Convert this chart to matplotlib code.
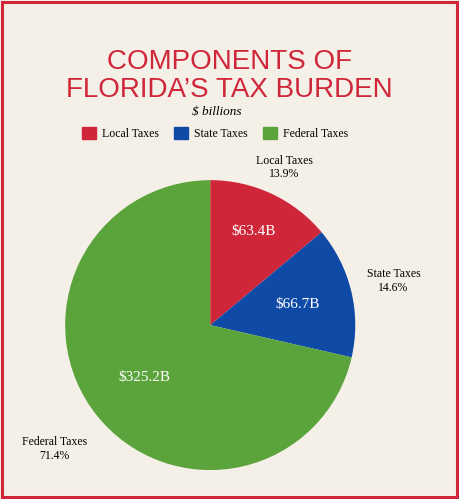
import numpy as np
import matplotlib
matplotlib.use("Agg")
import matplotlib.pyplot as plt
from matplotlib.patches import Rectangle

categories = ["Local Taxes", "State Taxes", "Federal Taxes"]
values = [63.4, 66.7, 325.2]
shares = ["13.9%", "14.6%", "71.4%"]
colors = ["#d0263a", "#0f4aa6", "#5ba33b"]

fig = plt.figure(figsize=(4.59, 4.99), dpi=100, facecolor="#f4f0e8")
fig.patches.append(Rectangle((0.004, 0.004), 0.992, 0.992, transform=fig.transFigure,
                             fill=False, edgecolor="#d0263a", linewidth=2.2))

fig.text(0.5, 0.848, "COMPONENTS OF\nFLORIDA\u2019S TAX BURDEN", ha="center", va="center",
         color="#d0263a", fontsize=20, family="Liberation Sans", linespacing=1.1)
fig.text(0.472, 0.775, "$ billions", ha="center", va="center", fontsize=9.5,
         style="italic", family="Liberation Serif")

ax = fig.add_axes([0.142, 0.058, 0.632, 0.581])
wedges, _ = ax.pie(values, colors=colors, startangle=90, counterclock=False,
                   wedgeprops=dict(linewidth=0))
ax.set_aspect("auto")
ax.set_xlim(-1, 1)
ax.set_ylim(-1, 1)

inner_r = [0.71, 0.62, 0.58]
outer_r = [1.2, 1.3, 1.37]
for w, v, s, c, ri, ro in zip(wedges, values, shares, categories, inner_r, outer_r):
    mid = np.deg2rad((w.theta1 + w.theta2) / 2)
    ax.text(ri * np.cos(mid), ri * np.sin(mid), f"${v}B", ha="center", va="center",
            color="white", fontsize=11, family="Liberation Serif")
    ax.text(ro * np.cos(mid), ro * np.sin(mid), f"{c}\n{s}", ha="center", va="center",
            fontsize=8.5, family="Liberation Serif", clip_on=False)

handles = [Rectangle((0, 0), 1, 1, color=c) for c in colors]
fig.legend(handles, categories, loc="center", bbox_to_anchor=(0.468, 0.733), ncol=3,
           frameon=False, prop={"family": "Liberation Serif", "size": 8.5},
           handlelength=1.2, handleheight=1.2, columnspacing=1.3, handletextpad=0.5)

fig.savefig("out.png", dpi=100, facecolor=fig.get_facecolor())
